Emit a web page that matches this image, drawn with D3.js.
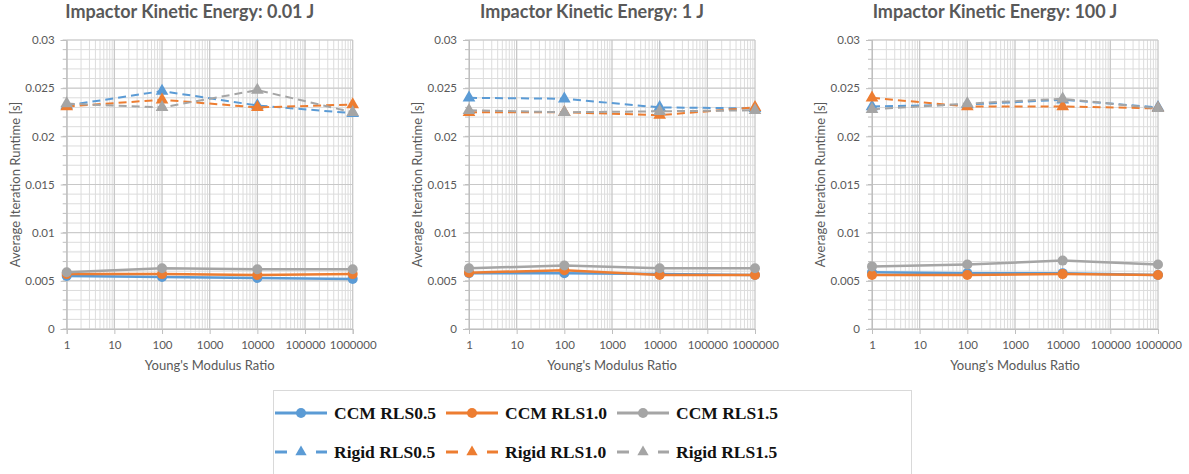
<!DOCTYPE html>
<html>
<head>
<meta charset="utf-8">
<script src="https://cdn.jsdelivr.net/npm/d3@7"></script>
<style>
  html, body { margin: 0; padding: 0; background: #fff; }
  svg { display: block; }
</style>
</head>
<body>
<svg id="chart" width="1189" height="474"></svg>
<script>
// Young's modulus ratio (x) shared by every panel
const ratios = [1, 100, 10000, 1000000];
const xTickLabels = [1, 10, 100, 1000, 10000, 100000, 1000000];
const yTickValues = [0, 0.005, 0.01, 0.015, 0.02, 0.025, 0.03];

// one panel per impactor kinetic energy
const energies = ["0.01 J", "1 J", "100 J"];

// average iteration runtime [s]; rows follow the energies above
const ccmRls05 = [
  [0.0055, 0.0054, 0.0053, 0.0052],
  [0.0058, 0.0058, 0.0057, 0.0056],
  [0.0059, 0.0058, 0.0058, 0.0056]
];
const ccmRls10 = [
  [0.0057, 0.0057, 0.0056, 0.0057],
  [0.00585, 0.0061, 0.0056, 0.0056],
  [0.0056, 0.0056, 0.0057, 0.0056]
];
const ccmRls15 = [
  [0.0059, 0.0063, 0.0062, 0.0062],
  [0.0063, 0.0066, 0.0063, 0.0063],
  [0.0065, 0.0067, 0.0071, 0.0067]
];
const rigidRls05 = [
  [0.0232, 0.0247, 0.0232, 0.0224],
  [0.0240, 0.0239, 0.0230, 0.0229],
  [0.0231, 0.0233, 0.0238, 0.0230]
];
const rigidRls10 = [
  [0.0231, 0.0238, 0.0230, 0.0233],
  [0.0225, 0.0225, 0.0222, 0.0230],
  [0.0240, 0.0231, 0.0231, 0.0229]
];
const rigidRls15 = [
  [0.0234, 0.0230, 0.0248, 0.0225],
  [0.0227, 0.0225, 0.0226, 0.0227],
  [0.0228, 0.0234, 0.0239, 0.0229]
];

const seriesNames = ["CCM RLS0.5", "CCM RLS1.0", "CCM RLS1.5", "Rigid RLS0.5", "Rigid RLS1.0", "Rigid RLS1.5"];
const seriesValues = [ccmRls05, ccmRls10, ccmRls15, rigidRls05, rigidRls10, rigidRls15];
const seriesColors = ["#5b9bd5", "#ed7d31", "#a5a5a5", "#5b9bd5", "#ed7d31", "#a5a5a5"];
const seriesDashed = [false, false, false, true, true, true];

// layout
const panelLefts = [66.7, 469, 872];
const plotW = 286, plotTop = 40, plotBottom = 329;
const textGray = "#595959";
const uiFont = "Lato, 'Open Sans', sans-serif";

const svg = d3.select("#chart");

const y = d3.scaleLinear().domain([0, 0.03]).range([plotBottom, plotTop]);
const yMinor = d3.range(0, 0.0305, 0.001);
const xMinor = [];
for (let e = 0; e < 6; e++) for (let m = 2; m <= 9; m++) xMinor.push(m * Math.pow(10, e));

const fmtY = d => d === 0 ? "0" : String(+d.toFixed(3));

energies.forEach((energy, p) => {
  const x0 = panelLefts[p];
  const x = d3.scaleLog().domain([1, 1000000]).range([x0, x0 + plotW]);
  const g = svg.append("g");

  // gridlines: minor first, then major
  g.append("g").selectAll("line").data(yMinor).join("line")
    .attr("x1", x0).attr("x2", x0 + plotW)
    .attr("y1", d => y(d)).attr("y2", d => y(d))
    .attr("stroke", "#dcdcdc").attr("stroke-width", 1);
  g.append("g").selectAll("line").data(xMinor).join("line")
    .attr("x1", d => x(d)).attr("x2", d => x(d))
    .attr("y1", plotTop).attr("y2", plotBottom)
    .attr("stroke", "#dcdcdc").attr("stroke-width", 1);
  g.append("g").selectAll("line").data(yTickValues).join("line")
    .attr("x1", x0).attr("x2", x0 + plotW)
    .attr("y1", d => y(d)).attr("y2", d => y(d))
    .attr("stroke", "#c8c8c8").attr("stroke-width", 1);
  g.append("g").selectAll("line").data(xTickLabels).join("line")
    .attr("x1", d => x(d)).attr("x2", d => x(d))
    .attr("y1", plotTop).attr("y2", plotBottom)
    .attr("stroke", "#c8c8c8").attr("stroke-width", 1.3);

  // y axis with minor ticks
  const yAxis = g.append("g").attr("transform", `translate(${x0},0)`)
    .call(d3.axisLeft(y).tickValues(yTickValues).tickFormat(fmtY).tickSize(6).tickPadding(6));
  yAxis.append("g").selectAll("line").data(yMinor).join("line")
    .attr("x1", -4).attr("x2", 0).attr("y1", d => y(d)).attr("y2", d => y(d))
    .attr("stroke", "#bfbfbf");
  yAxis.select(".domain").attr("stroke", "#bfbfbf");
  yAxis.selectAll(".tick line").attr("stroke", "#bfbfbf");
  yAxis.selectAll(".tick text").attr("fill", textGray)
    .style("font-family", uiFont).style("font-size", "11.5px");

  // x axis
  const xAxis = g.append("g").attr("transform", `translate(0,${plotBottom})`)
    .call(d3.axisBottom(x).tickValues(xTickLabels).tickFormat(d3.format("d")).tickSize(5).tickPadding(7));
  xAxis.select(".domain").attr("stroke", "#bfbfbf");
  xAxis.selectAll(".tick line").attr("stroke", "#bfbfbf");
  xAxis.selectAll(".tick text").attr("fill", textGray)
    .style("font-family", uiFont).style("font-size", "11.5px");

  // titles
  g.append("text")
    .attr("x", x0 + plotW / 2 - 20).attr("y", 18)
    .attr("text-anchor", "middle")
    .attr("fill", textGray)
    .style("font-family", uiFont).style("font-size", "18px").style("font-weight", "bold")
    .text("Impactor Kinetic Energy: " + energy);
  g.append("text")
    .attr("x", x0 + plotW / 2).attr("y", 370)
    .attr("text-anchor", "middle")
    .attr("fill", textGray)
    .style("font-family", uiFont).style("font-size", "13px")
    .text("Young's Modulus Ratio");
  g.append("text")
    .attr("transform", `translate(${x0 - 47},${(plotTop + plotBottom) / 2}) rotate(-90)`)
    .attr("text-anchor", "middle")
    .attr("fill", textGray)
    .style("font-family", uiFont).style("font-size", "13px")
    .text("Average Iteration Runtime [s]");

  // series
  const line = d3.line().x((d, i) => x(ratios[i])).y(d => y(d));
  seriesValues.forEach((vals, s) => {
    const data = vals[p];
    const sg = g.append("g");
    sg.append("path").datum(data)
      .attr("d", line)
      .attr("fill", "none")
      .attr("stroke", seriesColors[s])
      .attr("stroke-width", seriesDashed[s] ? 2 : 2.5)
      .attr("stroke-dasharray", seriesDashed[s] ? "8,5" : null);
    if (seriesDashed[s]) {
      sg.selectAll("path.m").data(data).join("path").attr("class", "m")
        .attr("transform", (d, i) => `translate(${x(ratios[i])},${y(d)})`)
        .attr("d", d3.symbol(d3.symbolTriangle, 70))
        .attr("fill", seriesColors[s]);
    } else {
      sg.selectAll("circle").data(data).join("circle")
        .attr("cx", (d, i) => x(ratios[i])).attr("cy", d => y(d))
        .attr("r", 5)
        .attr("fill", seriesColors[s]);
    }
  });
});

// legend
const legend = svg.append("g");
legend.append("rect")
  .attr("x", 273.5).attr("y", 390.5).attr("width", 638).attr("height", 100)
  .attr("fill", "#fff").attr("stroke", "#d9d9d9");
const colX = [275, 446, 617];
const rowY = [413, 452];
seriesNames.forEach((name, s) => {
  const cx = colX[s % 3], cy = rowY[Math.floor(s / 3)];
  const it = legend.append("g").attr("transform", `translate(${cx},${cy})`);
  if (seriesDashed[s]) {
    it.append("line").attr("x1", 0).attr("x2", 12).attr("y1", 0).attr("y2", 0)
      .attr("stroke", seriesColors[s]).attr("stroke-width", 3);
    it.append("line").attr("x1", 41).attr("x2", 52).attr("y1", 0).attr("y2", 0)
      .attr("stroke", seriesColors[s]).attr("stroke-width", 3);
    it.append("path").attr("transform", "translate(26,0)")
      .attr("d", d3.symbol(d3.symbolTriangle, 55)).attr("fill", seriesColors[s]);
  } else {
    it.append("line").attr("x1", 0).attr("x2", 52).attr("y1", 0).attr("y2", 0)
      .attr("stroke", seriesColors[s]).attr("stroke-width", 3);
    it.append("circle").attr("cx", 26).attr("cy", 0).attr("r", 5).attr("fill", seriesColors[s]);
  }
  it.append("text").attr("x", 59).attr("y", 0).attr("dy", "0.35em")
    .attr("fill", "#111")
    .style("font-family", "'Liberation Serif', 'DejaVu Serif', serif")
    .style("font-size", "17.5px").style("font-weight", "bold")
    .text(name);
});
</script>
</body>
</html>
